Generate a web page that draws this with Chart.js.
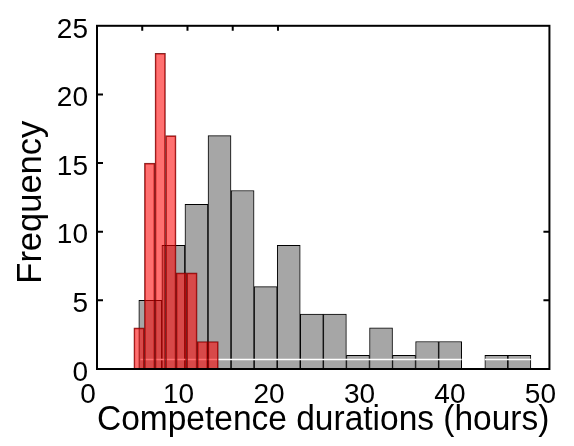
<!DOCTYPE html>
<html>
<head>
<meta charset="utf-8">
<script src="https://cdn.jsdelivr.net/npm/chart.js@4.4.0/dist/chart.umd.min.js"></script>
<style>
  html, body { margin: 0; padding: 0; background: #ffffff; }
  #wrap { width: 574px; height: 446px; }
</style>
</head>
<body>
<div id="wrap"><canvas id="c" width="574" height="446"></canvas></div>
<script>
// Histogram of all competence durations: bin centres (hours) and counts
const allCenters = [5.89, 8.44, 10.99, 13.54, 16.09, 18.64, 21.19, 23.74, 26.29,
                    28.84, 31.39, 33.93, 36.48, 39.03, 41.58, 44.13, 46.68];
const allCounts  = [5, 9, 12, 17, 13, 6, 9, 4, 4, 1, 3, 1, 2, 2, 0, 1, 1];

// Histogram of the short-duration subset: bin centres (hours) and counts
const subCenters = [4.65, 5.82, 6.99, 8.16, 9.32, 10.49, 11.66, 12.83];
const subCounts  = [3, 15, 23, 17, 7, 7, 2, 2];

// Faint reference rule drawn across the grey bars
const ruleX = [4.8, 40.3, null, 42.85, 47.95];
const ruleY = [0.7, 0.7, null, 0.7, 0.7];

// Axis ticks
const xTickValues = [0, 10, 20, 30, 40, 50];
const yTickValues = [0, 5, 10, 15, 20, 25];
const topMarks   = [5, 10, 15, 20];
const leftMarks  = [5, 10, 15, 20];
const rightMarks = [5, 10];

const FONT = '"Liberation Sans", Arial, Helvetica, sans-serif';

const toPoints = (xs, ys) => xs.map((x, i) => ({ x: x, y: ys[i] }));

// Box around the plot area plus short inward tick marks
const framePlugin = {
  id: 'frame',
  afterDatasetsDraw(chart) {
    const { ctx, chartArea: a, scales } = chart;
    const x = scales.x, y = scales.y;
    ctx.save();
    ctx.strokeStyle = '#000';
    ctx.lineWidth = 2;
    ctx.strokeRect(a.left, a.top, a.right - a.left, a.bottom - a.top);
    ctx.beginPath();
    topMarks.forEach(v => {
      const px = x.getPixelForValue(v);
      ctx.moveTo(px, a.top); ctx.lineTo(px, a.top + 5);
    });
    leftMarks.forEach(v => {
      const py = y.getPixelForValue(v);
      ctx.moveTo(a.left, py); ctx.lineTo(a.left + 6, py);
    });
    rightMarks.forEach(v => {
      const py = y.getPixelForValue(v);
      ctx.moveTo(a.right, py); ctx.lineTo(a.right - 6, py);
    });
    ctx.stroke();
    ctx.restore();
  }
};

new Chart(document.getElementById('c'), {
  type: 'bar',
  data: {
    datasets: [
      {
        type: 'bar',
        label: 'subset',
        data: toPoints(subCenters, subCounts),
        xAxisID: 'xSub',
        backgroundColor: 'rgba(255, 0, 0, 0.56)',
        borderColor: 'rgba(110, 0, 0, 0.85)',
        borderWidth: 1,
        barPercentage: 1,
        categoryPercentage: 1,
        grouped: false,
        order: 0
      },
      {
        type: 'line',
        label: 'rule',
        data: toPoints(ruleX, ruleY),
        xAxisID: 'x',
        borderColor: '#ffffff',
        borderWidth: 1.5,
        pointRadius: 0,
        spanGaps: false,
        fill: false,
        order: 1
      },
      {
        type: 'bar',
        label: 'all',
        data: toPoints(allCenters, allCounts),
        xAxisID: 'x',
        backgroundColor: '#a6a6a6',
        borderColor: '#000000',
        borderWidth: 1,
        barPercentage: 1,
        categoryPercentage: 1,
        grouped: false,
        order: 2
      }
    ]
  },
  options: {
    responsive: false,
    animation: false,
    devicePixelRatio: 1,
    layout: { padding: { left: 0, right: 22, top: 19, bottom: 0 } },
    plugins: {
      legend: { display: false },
      tooltip: { enabled: false }
    },
    scales: {
      x: {
        type: 'linear',
        min: 0,
        max: 50,
        offset: false,
        afterBuildTicks: s => { s.ticks = xTickValues.map(v => ({ value: v })); },
        afterFit: s => { s.height = 77; },
        grid: { display: false, drawTicks: false },
        border: { display: false },
        ticks: {
          color: '#000',
          font: { family: FONT, size: 28 },
          padding: 9,
          labelOffset: -9,
          maxRotation: 0,
          autoSkip: false
        },
        title: {
          display: true,
          text: 'Competence durations (hours)',
          color: '#000',
          font: { family: FONT, size: 34.5 },
          padding: { top: 0, bottom: 5 }
        }
      },
      xSub: {
        type: 'linear',
        min: 0,
        max: 50,
        offset: false,
        display: false
      },
      y: {
        type: 'linear',
        min: 0,
        max: 25,
        afterBuildTicks: s => { s.ticks = yTickValues.map(v => ({ value: v })); },
        afterFit: s => { s.width = 97; },
        grid: { display: false, drawTicks: false },
        border: { display: false },
        ticks: {
          color: '#000',
          font: { family: FONT, size: 28 },
          padding: 9,
          labelOffset: 4
        },
        title: {
          display: true,
          text: 'Frequency ',
          color: '#000',
          font: { family: FONT, size: 34.5 },
          padding: { top: 11, bottom: 0 }
        }
      }
    }
  },
  plugins: [framePlugin]
});
</script>
</body>
</html>
